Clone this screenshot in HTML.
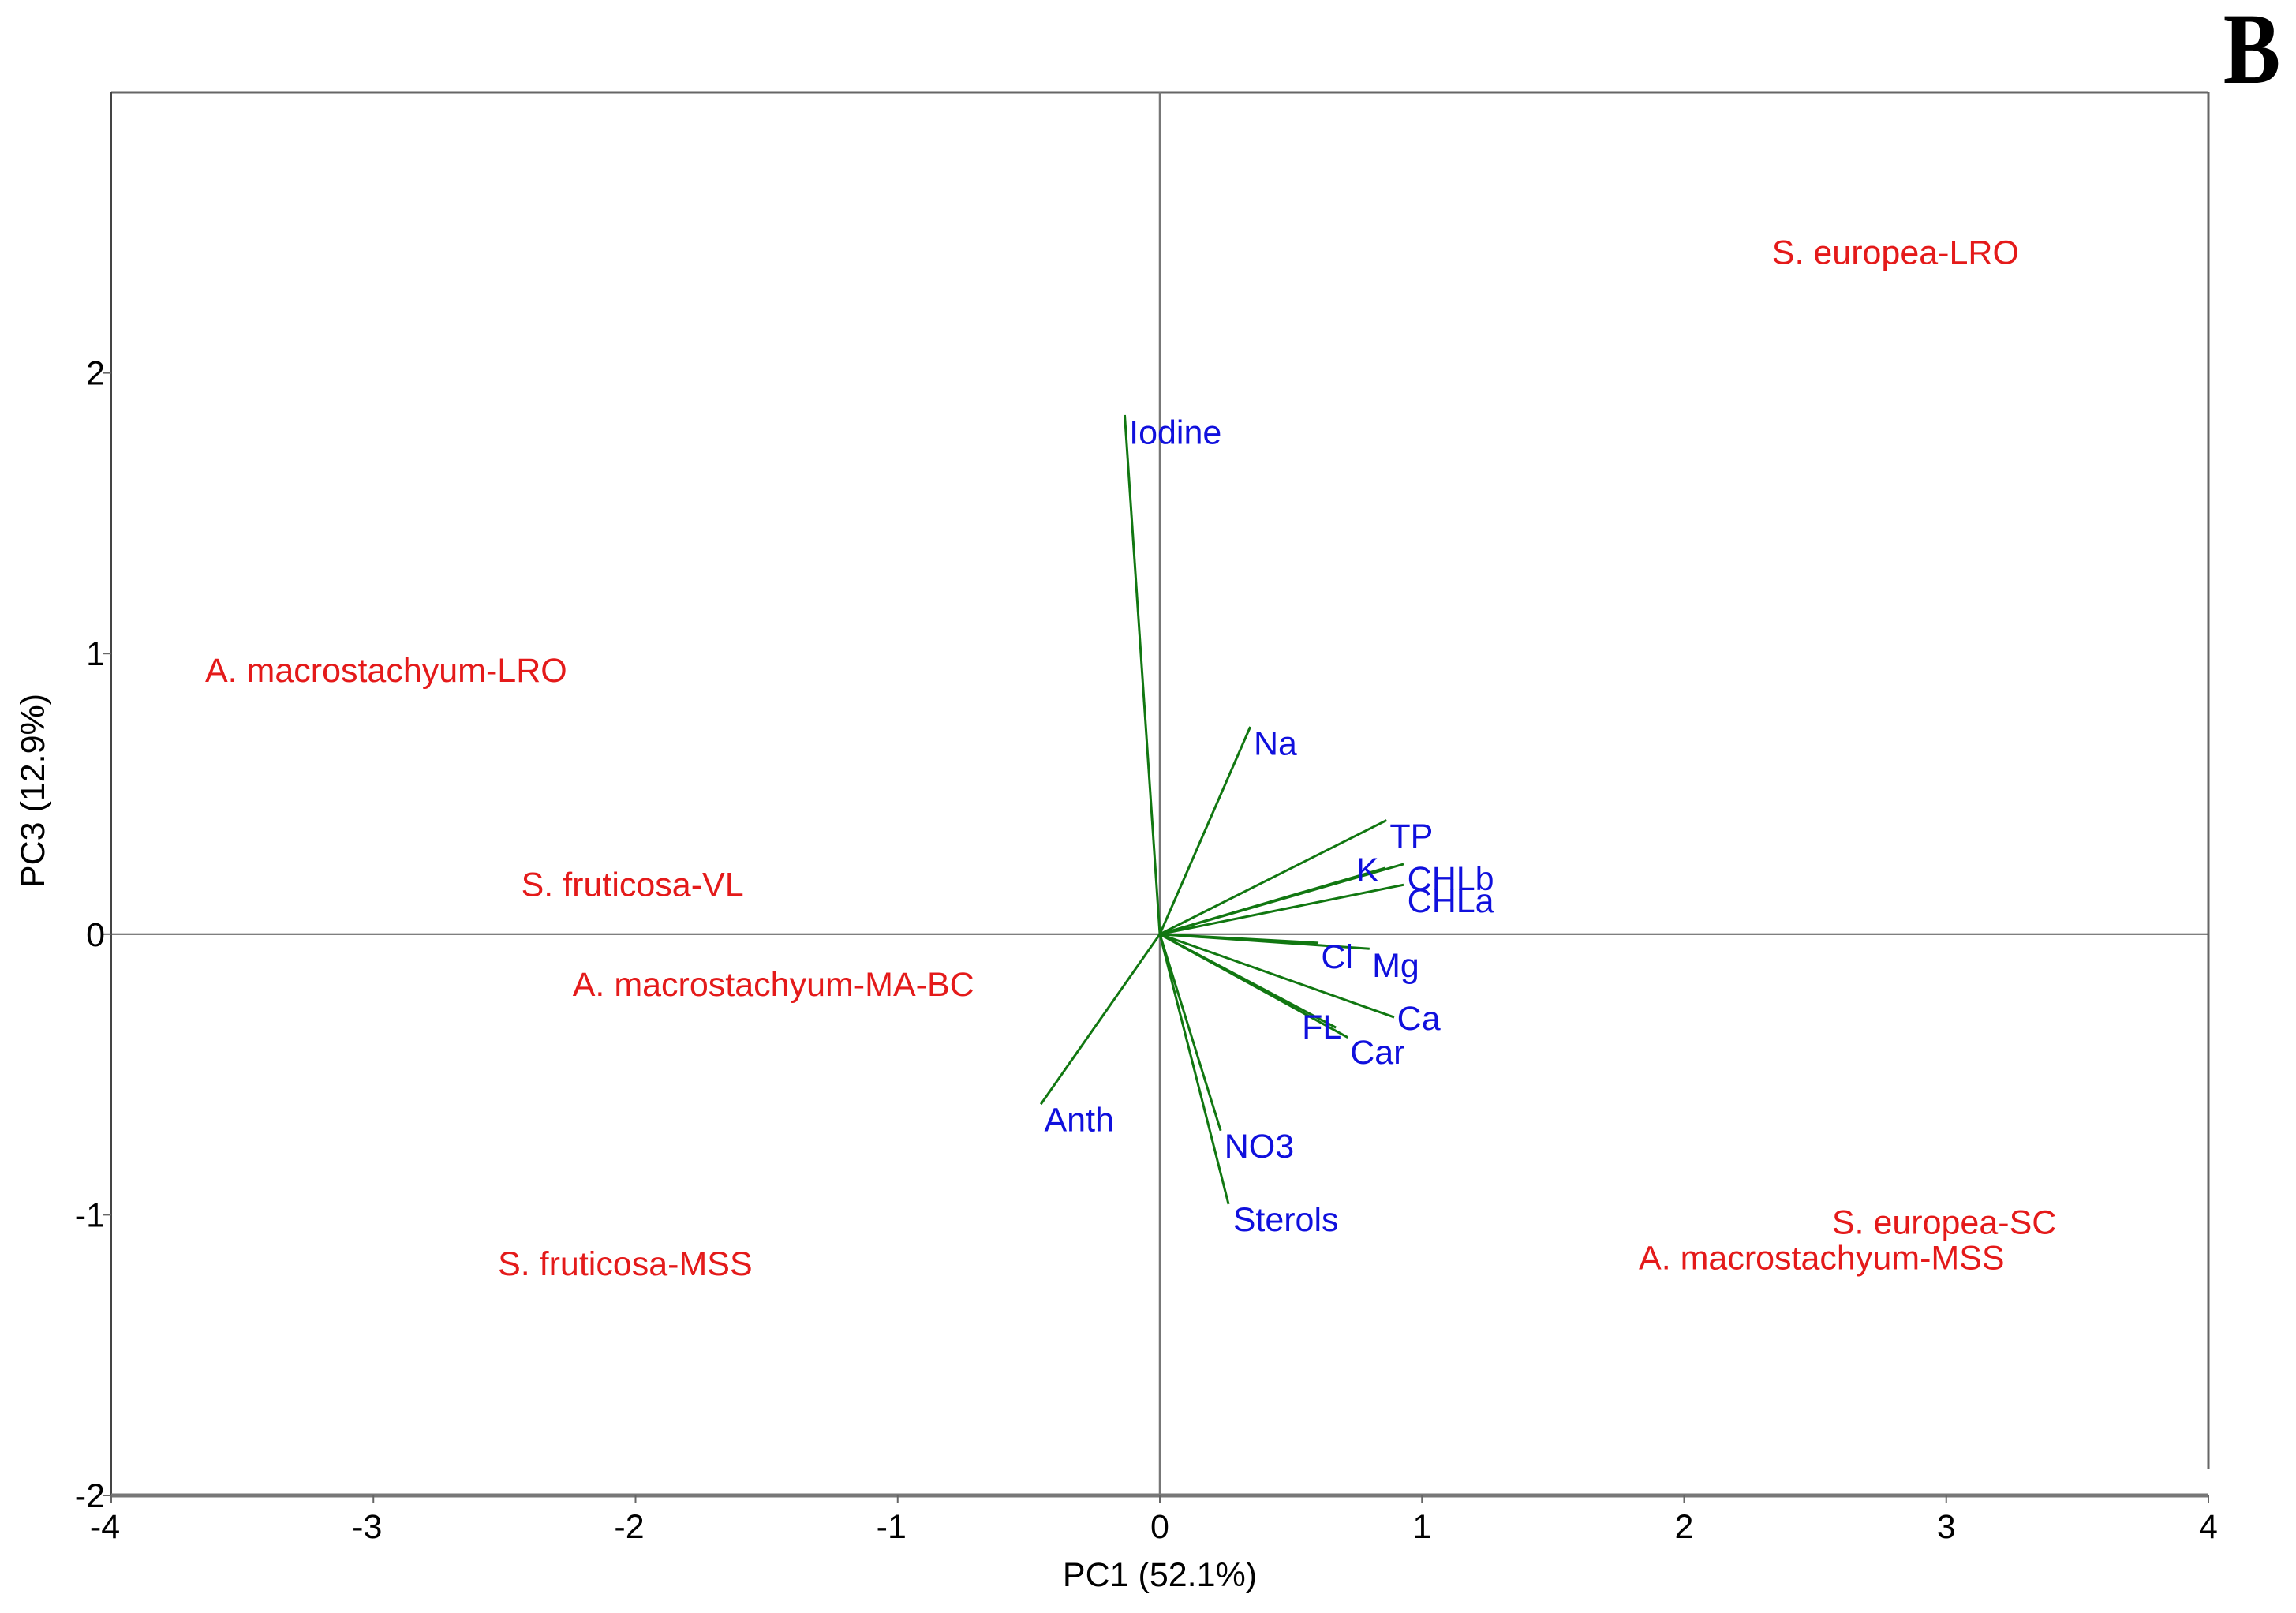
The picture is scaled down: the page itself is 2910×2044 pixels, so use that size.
<!DOCTYPE html>
<html><head><meta charset="utf-8"><style>
html,body{margin:0;padding:0;background:#fff;}
svg{display:block;}
text{font-family:"Liberation Sans",Arial,sans-serif;}
</style></head><body>
<svg id="chart" width="2910" height="2044" viewBox="0 0 2910 2044" xmlns="http://www.w3.org/2000/svg">
<text x="0" y="105" font-family="Liberation Serif" font-weight="bold" font-size="128" transform="translate(2854,0) scale(0.85,1)" text-anchor="middle" style="font-family:'Liberation Serif',serif">B</text>
<g id="axes"></g>
<g id="vectors"></g>
<g id="vlabels"></g>
<g id="samples"></g>
</svg>
<script>
const xTicks=[-4,-3,-2,-1,0,1,2,3,4];
const yTicks=[-2,-1,0,1,2];
const varNames=["Iodine","Na","TP","K","CHLb","CHLa","Cl","Mg","Ca","FL","Car","Anth","NO3","Sterols"];
const varX=[-0.134,0.345,0.865,0.86,0.93,0.93,0.605,0.80,0.894,0.672,0.717,-0.454,0.232,0.262];
const varY=[1.85,0.739,0.406,0.236,0.25,0.176,-0.031,-0.052,-0.296,-0.333,-0.368,-0.606,-0.70,-0.962];
const varLabelX=[-0.117,0.358,0.877,0.749,0.944,0.944,0.615,0.810,0.905,0.542,0.726,-0.441,0.246,0.279];
const varLabelY=[1.79,0.681,0.351,0.230,0.199,0.120,-0.079,-0.110,-0.298,-0.330,-0.419,-0.660,-0.754,-1.016];
const sampleNames=["S. europea-LRO","A. macrostachyum-LRO","S. fruticosa-VL","A. macrostachyum-MA-BC","S. fruticosa-MSS","S. europea-SC","A. macrostachyum-MSS"];
const sampleX=[2.335,-3.642,-2.436,-2.240,-2.525,2.564,1.827];
const sampleY=[2.43,0.942,0.178,-0.178,-1.173,-1.026,-1.152];

const L=141,R=2799,T=117,B=1895;
const xmin=-4,xmax=4,ymin=-2,ymax=3;
const sx=v=>L+(v-xmin)/(xmax-xmin)*(R-L);
const sy=v=>B-(v-ymin)/(ymax-ymin)*(B-T);
const NS="http://www.w3.org/2000/svg";
function mk(tag,attrs,parent,txt){const e=document.createElementNS(NS,tag);for(const k in attrs)e.setAttribute(k,attrs[k]);if(txt!==undefined)e.textContent=txt;parent.appendChild(e);return e;}
const ax=document.getElementById('axes');
let e;
e=mk('line',{x1:L,y1:T,x2:R,y2:T,stroke:'#666','stroke-width':3},ax);


e=mk('line',{x1:R,y1:T,x2:R,y2:1862,stroke:'#666','stroke-width':3},ax);


e=mk('line',{x1:L,y1:T,x2:L,y2:B,stroke:'#444','stroke-width':2},ax);


e=mk('line',{x1:L,y1:B,x2:R,y2:B,stroke:'#777','stroke-width':5},ax);


e=mk('line',{x1:sx(0),y1:T,x2:sx(0),y2:B,stroke:'#777','stroke-width':2.5},ax);


e=mk('line',{x1:L,y1:sy(0),x2:R,y2:sy(0),stroke:'#555','stroke-width':2},ax);


xTicks.forEach(t=>{
  e=mk('line',{x1:sx(t),y1:B,x2:sx(t),y2:B+10,stroke:'#666','stroke-width':2},ax);
  
  
  e=mk('text',{x:sx(t)-(t<0?8:0),y:B+54,'font-size':43,'text-anchor':'middle',fill:'#000'},ax,String(t));
  
  
});
yTicks.forEach(t=>{
  e=mk('line',{x1:L-10,y1:sy(t),x2:L,y2:sy(t),stroke:'#666','stroke-width':2},ax);
  
  
  e=mk('text',{x:L-8,y:sy(t)+15,'font-size':43,'text-anchor':'end',fill:'#000'},ax,String(t));
  
  
});
e=mk('text',{x:(L+R)/2,y:2010,'font-size':43,'text-anchor':'middle',fill:'#000'},ax,'PC1 (52.1%)');


e=mk('text',{x:0,y:0,'font-size':43,'text-anchor':'middle',fill:'#000',transform:'translate(56,1002) rotate(-90)'},ax,'PC3 (12.9%)');



const vg=document.getElementById('vectors'),lg=document.getElementById('vlabels');
varNames.forEach((n,i)=>{
  e=mk('line',{x1:sx(0),y1:sy(0),x2:sx(varX[i]),y2:sy(varY[i]),stroke:'#117711','stroke-width':3},vg);
  
  
  e=mk('text',{x:sx(varLabelX[i]),y:sy(varLabelY[i])+15,'font-size':43,fill:'#1010dd'},lg,n);
  
  
});
const sg=document.getElementById('samples');
sampleNames.forEach((n,i)=>{
  e=mk('text',{x:sx(sampleX[i]),y:sy(sampleY[i])+15,'font-size':43,fill:'#e41a1a'},sg,n);
  
  
});
</script>
</body></html>
